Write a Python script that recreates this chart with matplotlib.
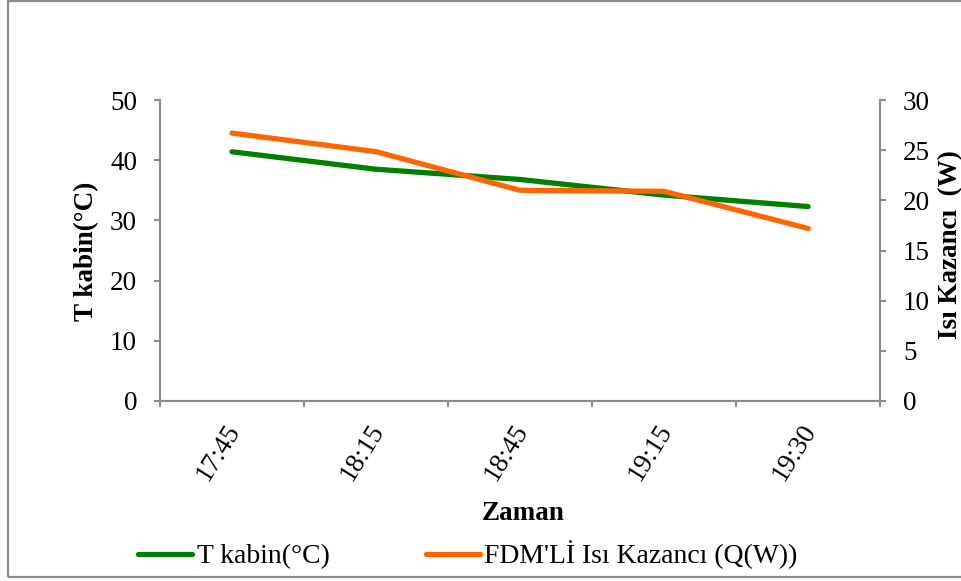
import matplotlib
matplotlib.use("Agg")
import matplotlib.pyplot as plt
from matplotlib.lines import Line2D
from matplotlib.patches import Rectangle

plt.rcParams['font.family'] = ['Liberation Serif', 'DejaVu Serif']

# Data
times = ["17:45", "18:15", "18:45", "19:15", "19:30"]
t_kabin = [41.4, 38.5, 36.8, 34.2, 32.3]          # cabin temperature (°C)
isi_kazanci = [26.7, 24.85, 21.0, 20.9, 17.2]     # FDM heat gain (W)

GREEN = "#008000"
ORANGE = "#FF6600"
GRAY = "#8C8C8C"
FS = 19.5

fig = plt.figure(figsize=(9.61, 5.81), dpi=100)
ax = fig.add_axes([160 / 961, 1 - 401 / 581, 720 / 961, 301 / 581])
ax2 = ax.twinx()

x = list(range(len(times)))
ax.plot(x, t_kabin, color=GREEN, lw=3.8, solid_capstyle='round', solid_joinstyle='round', zorder=3)
ax2.plot(x, isi_kazanci, color=ORANGE, lw=3.8, solid_capstyle='round', solid_joinstyle='round', zorder=3)

ax.set_xlim(-0.5, len(times) - 0.5)
ax.set_ylim(0, 50)
ax2.set_ylim(0, 30)
ax.set_yticks(range(0, 51, 10))
ax2.set_yticks(range(0, 31, 5))

# category boundaries as major ticks, no labels
ax.set_xticks([i - 0.5 for i in range(len(times) + 1)])
ax.set_xticklabels([])

for a in (ax, ax2):
    for s in a.spines.values():
        s.set_color(GRAY)
        s.set_linewidth(1.5)
    a.spines['top'].set_visible(False)
    a.tick_params(colors=GRAY, length=4.5, width=1.5, direction='out', labelsize=FS,
                  labelcolor='black')
ax.spines['right'].set_visible(False)
ax2.spines['left'].set_visible(False)
ax.tick_params(axis='y', pad=12)
ax2.tick_params(axis='y', pad=12)

# rotated category labels
for i, lab in enumerate(times):
    ax.annotate(lab, xy=(i, 0), xycoords=ax.get_xaxis_transform(),
                xytext=(-10, -37), textcoords='offset points',
                rotation=58, ha='center', va='center', fontsize=FS)

fig.text(523 / 961, 1 - 514 / 581, "Zaman", fontsize=FS, fontweight='bold',
         ha='center', va='center')
fig.text(87 / 961, 1 - 251 / 581, "T kabin(°C)", fontsize=FS, fontweight='bold',
         rotation=90, ha='center', va='center')
fig.text(951 / 961, 1 - 245 / 581, "Isı Kazancı  (W)", fontsize=FS, fontweight='bold',
         rotation=90, ha='center', va='center')

handles = [Line2D([], [], color=GREEN, lw=3.8, solid_capstyle='round'),
           Line2D([], [], color=ORANGE, lw=3.8, solid_capstyle='round')]
fig.legend(handles, ["T kabin(°C)", "FDM'Lİ Isı Kazancı (Q(W))"],
           loc='center', bbox_to_anchor=(468 / 961, 1 - 555 / 581), ncol=2,
           frameon=False, fontsize=19.9, handlelength=1.95, handletextpad=0.15,
           columnspacing=3.5, borderpad=0, borderaxespad=0)

fig.patches.append(Rectangle((8 / 961, 4 / 581), 1.0, 1 - 5 / 581,
                             transform=fig.transFigure, fill=False,
                             edgecolor=GRAY, linewidth=1.6))

fig.savefig("out.png", dpi=100)
